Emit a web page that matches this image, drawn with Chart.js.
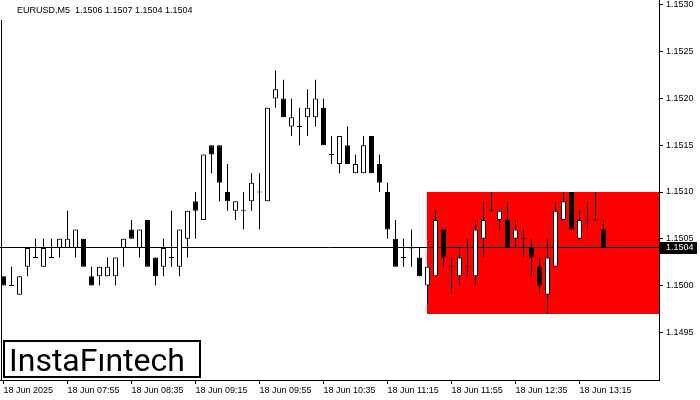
<!DOCTYPE html>
<html>
<head>
<meta charset="utf-8">
<script src="https://cdn.jsdelivr.net/npm/chart.js@4/dist/chart.umd.min.js"></script>
<style>
    html, body { margin: 0; padding: 0; background: #fff; }
    #wrap { width: 700px; height: 400px; }
</style>
</head>
<body>
<div id="wrap"><canvas id="eurusdChart" width="700" height="400"></canvas></div>
<script>
// EURUSD M5 candles, 18 Jun 2025 from 07:15
const opens = [1.1501, 1.1500, 1.1499, 1.1502, 1.1503, 1.1502, 1.1503, 1.1504, 1.1504, 1.1504,
    1.1505, 1.1501, 1.1501, 1.1501, 1.1501, 1.1504, 1.1506, 1.1504, 1.1507, 1.1503,
    1.1502, 1.1503, 1.1502, 1.1505, 1.1509, 1.1507, 1.1515, 1.1515, 1.1510, 1.1508,
    1.1508, 1.1509, 1.1510, 1.1509, 1.1520, 1.1520, 1.1517, 1.1517, 1.1518, 1.1518,
    1.1519, 1.1514, 1.1513, 1.1515, 1.1512, 1.1512, 1.1516, 1.1513, 1.1510, 1.1505,
    1.1503, 1.1504, 1.1503, 1.1500, 1.1501, 1.1506, 1.1502, 1.1501, 1.1502, 1.1501,
    1.1505, 1.1508, 1.1507, 1.1507, 1.1505, 1.1505, 1.1504, 1.1502, 1.1499, 1.1502,
    1.1507, 1.1510, 1.1505, 1.1507, 1.1507, 1.1506];
const highs = [1.1501, 1.1502, 1.1501, 1.1504, 1.1505, 1.1505, 1.1505, 1.1505, 1.1508, 1.1506,
    1.1505, 1.1502, 1.1502, 1.1503, 1.1503, 1.1505, 1.1507, 1.1506, 1.1507, 1.1503,
    1.1505, 1.1508, 1.1506, 1.1508, 1.1510, 1.1514, 1.1515, 1.1515, 1.1513, 1.1509,
    1.1510, 1.1512, 1.1512, 1.1519, 1.1523, 1.1522, 1.1520, 1.1519, 1.1521, 1.1522,
    1.1520, 1.1516, 1.1516, 1.1517, 1.1514, 1.1516, 1.1516, 1.1514, 1.1511, 1.1507,
    1.1505, 1.1506, 1.1504, 1.1502, 1.1508, 1.1506, 1.1503, 1.1504, 1.1505, 1.1507,
    1.1509, 1.1510, 1.1508, 1.1509, 1.1507, 1.1506, 1.1505, 1.1503, 1.1505, 1.1509,
    1.1510, 1.1510, 1.1508, 1.1509, 1.1510, 1.1507];
const lows = [1.1500, 1.1500, 1.1499, 1.1501, 1.1503, 1.1502, 1.1503, 1.1503, 1.1504, 1.1503,
    1.1502, 1.1500, 1.1500, 1.1501, 1.1500, 1.1502, 1.1505, 1.1503, 1.1502, 1.1500,
    1.1501, 1.1502, 1.1501, 1.1503, 1.1505, 1.1507, 1.1512, 1.1509, 1.1508, 1.1507,
    1.1506, 1.1508, 1.1506, 1.1509, 1.1519, 1.1518, 1.1516, 1.1515, 1.1516, 1.1517,
    1.1515, 1.1513, 1.1512, 1.1513, 1.1512, 1.1512, 1.1512, 1.1510, 1.1505, 1.1502,
    1.1502, 1.1502, 1.1501, 1.1498, 1.1501, 1.1502, 1.1499, 1.1500, 1.1501, 1.1500,
    1.1503, 1.1508, 1.1506, 1.1504, 1.1504, 1.1503, 1.1501, 1.1499, 1.1497, 1.1502,
    1.1507, 1.1506, 1.1505, 1.1506, 1.1507, 1.1504];
const closes = [1.1500, 1.1500, 1.1501, 1.1504, 1.1503, 1.1504, 1.1503, 1.1505, 1.1505, 1.1506,
    1.1502, 1.1500, 1.1502, 1.1502, 1.1503, 1.1505, 1.1505, 1.1506, 1.1502, 1.1501,
    1.1504, 1.1503, 1.1506, 1.1508, 1.1508, 1.1514, 1.1514, 1.1511, 1.1509, 1.1509,
    1.1508, 1.1511, 1.1510, 1.1519, 1.1521, 1.1518, 1.1518, 1.1517, 1.1519, 1.1520,
    1.1515, 1.1514, 1.1516, 1.1513, 1.1513, 1.1515, 1.1512, 1.1511, 1.1506, 1.1502,
    1.1503, 1.1504, 1.1501, 1.1502, 1.1507, 1.1503, 1.1502, 1.1503, 1.1502, 1.1506,
    1.1507, 1.1508, 1.1508, 1.1504, 1.1506, 1.1505, 1.1503, 1.1500, 1.1503, 1.1508,
    1.1509, 1.1506, 1.1507, 1.1507, 1.1507, 1.1504];

const timeLabels = ['18 Jun 2025', '18 Jun 07:55', '18 Jun 08:35', '18 Jun 09:15', '18 Jun 09:55',
    '18 Jun 10:35', '18 Jun 11:15', '18 Jun 11:55', '18 Jun 12:35', '18 Jun 13:15'];
const timeTickIndex = [0, 8, 16, 24, 32, 40, 48, 56, 64, 72];
const priceTicks = [1.1495, 1.1500, 1.1505, 1.1510, 1.1515, 1.1520, 1.1525, 1.1530];

// rectangle zone and current bid
const zoneStart = 53;
const zoneHigh = 1.1510;
const zoneLow = 1.1497;
const lastPrice = 1.1504;
const titleText = 'EURUSD,M5  1.1506 1.1507 1.1504 1.1504';

const axisFont = { family: 'Liberation Sans', size: 9 };
const dojiHalf = 0.0000054;

const wickData = lows.map((l, i) => ({ x: i, y: [l, highs[i]] }));
const bodyData = opens.map((o, i) => {
    const c = closes[i];
    if (o === c) return { x: i, y: [o - dojiHalf, o + dojiHalf] };
    return { x: i, y: [Math.min(o, c), Math.max(o, c)] };
});
const bodyColors = opens.map((o, i) => closes[i] > o ? '#ffffff' : '#000000');

const overlay = {
    id: 'overlay',
    beforeDatasetsDraw(chart) {
        const { ctx, chartArea: a, scales: { x, y } } = chart;
        ctx.save();
        // red zone
        const zx = Math.floor(x.getPixelForValue(zoneStart));
        const zt = Math.round(y.getPixelForValue(zoneHigh));
        const zb = Math.round(y.getPixelForValue(zoneLow));
        ctx.fillStyle = '#ff0000';
        ctx.fillRect(zx, zt, a.right - zx, zb - zt);
        // bid line
        const ly = Math.floor(y.getPixelForValue(lastPrice)) - 0.5;
        ctx.strokeStyle = '#000';
        ctx.lineWidth = 1;
        ctx.beginPath();
        ctx.moveTo(a.left, ly);
        ctx.lineTo(a.right, ly);
        ctx.stroke();
        ctx.restore();
    },
    afterDraw(chart) {
        const { ctx, chartArea: a, scales: { y } } = chart;
        ctx.save();
        // left frame line
        ctx.strokeStyle = '#000';
        ctx.lineWidth = 1;
        ctx.beginPath();
        ctx.moveTo(1.5, 20);
        ctx.lineTo(1.5, a.bottom);
        ctx.stroke();

        // title
        ctx.fillStyle = '#000';
        ctx.font = '9px "Liberation Sans"';
        ctx.textBaseline = 'middle';
        ctx.textAlign = 'left';
        ctx.fillText(titleText, 17, 11);

        // current price label
        const py = Math.floor(y.getPixelForValue(lastPrice));
        ctx.fillStyle = '#000';
        ctx.fillRect(a.right + 1, py - 6, 37, 12);
        ctx.fillStyle = '#fff';
        ctx.fillText(lastPrice.toFixed(4), a.right + 7, py);

        // logo
        ctx.fillStyle = '#fff';
        ctx.fillRect(3, 340, 198, 38);
        ctx.strokeStyle = '#000';
        ctx.lineWidth = 2;
        ctx.strokeRect(4, 341, 196, 36);
        ctx.fillStyle = '#000';
        ctx.font = '32px Roboto';
        ctx.textBaseline = 'alphabetic';
        ctx.fillText('InstaF\u0131ntech', 9, 371);
        ctx.restore();
    }
};

const ctx = document.getElementById('eurusdChart').getContext('2d');
const eurusdChart = new Chart(ctx, {
    type: 'bar',
    data: {
        datasets: [
            {
                label: 'body',
                data: bodyData,
                backgroundColor: bodyColors,
                borderColor: '#000',
                borderWidth: 1,
                borderSkipped: false,
                barThickness: 5,
                inflateAmount: 0,
                grouped: false,
                order: 1
            },
            {
                label: 'wick',
                data: wickData,
                backgroundColor: '#000',
                borderWidth: 0,
                barThickness: 1,
                inflateAmount: 0,
                grouped: false,
                order: 2
            }
        ]
    },
    options: {
        responsive: false,
        animation: false,
        devicePixelRatio: 1,
        layout: { padding: 0 },
        scales: {
            x: {
                type: 'linear',
                offset: false,
                min: -3.5 / 8,
                max: (659 - 3.5) / 8,
                afterBuildTicks: s => { s.ticks = timeTickIndex.map(v => ({ value: v })); },
                afterFit: s => { s.height = 20; s.paddingLeft = 0; s.paddingRight = 0; },
                ticks: {
                    callback: (v, i) => timeLabels[i],
                    align: 'start',
                    autoSkip: false,
                    maxRotation: 0,
                    minRotation: 0,
                    padding: 1,
                    color: '#000',
                    font: axisFont
                },
                grid: { drawOnChartArea: false, offset: false, tickLength: 4, color: '#000' },
                border: { color: '#000', width: 1 }
            },
            y: {
                position: 'right',
                min: 1.1530 + 5 / 93500,
                max: 1.1530 - 375 / 93500,
                afterBuildTicks: s => { s.ticks = priceTicks.map(v => ({ value: v })); },
                afterFit: s => { s.width = 41; s.paddingTop = 0; s.paddingBottom = 0; },
                ticks: {
                    callback: v => v.toFixed(4),
                    autoSkip: false,
                    padding: 3,
                    color: '#000',
                    font: axisFont
                },
                grid: { drawOnChartArea: false, tickLength: 4, color: '#000' },
                border: { color: '#000', width: 1 }
            }
        },
        plugins: {
            legend: { display: false },
            tooltip: { enabled: false },
            title: { display: false }
        }
    },
    plugins: [overlay]
});
</script>
</body>
</html>
